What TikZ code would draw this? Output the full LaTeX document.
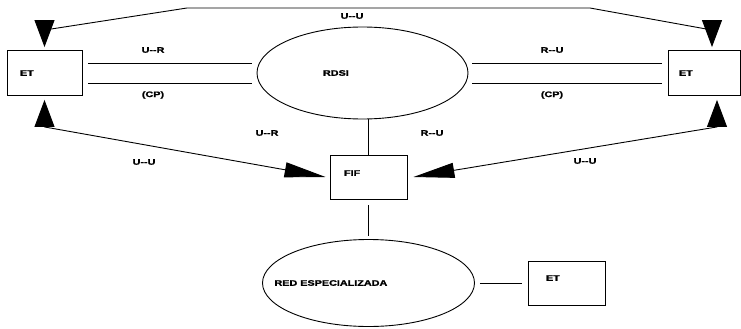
\documentclass[tikz,border=0pt]{standalone}
\usepackage{fontspec}
\setmainfont{Liberation Sans}
\newfontfamily\scanfont[FakeStretch=1.35,BoldFeatures={FakeBold=1.5}]{Liberation Sans}
\usetikzlibrary{arrows.meta,shapes.geometric}

\tikzset{
  box/.style={draw,minimum width=75pt,minimum height=45pt,inner sep=0pt},
  net/.style={draw,ellipse,inner sep=0pt},
  lbl/.style={font=\scanfont\fontsize{8}{9}\selectfont\bfseries,inner sep=1pt},
  big/.style={{Triangle[length=27pt,width=20pt]}-{Triangle[length=27pt,width=20pt]}},
  bigf/.style={{Triangle[length=27pt,width=20pt]}-{Triangle[length=41pt,width=15pt]}}
}

\begin{document}
\begin{tikzpicture}[x=1pt,y=-1pt,line width=0.9pt]
  \useasboundingbox (0,0) rectangle (741,329);

  %% boxes and networks
  \node[box] (etL) at (44.5,73) {};
  \node[box,minimum width=72pt] (etR) at (704,73) {};
  \node[box,minimum width=77pt,minimum height=44pt] (fif) at (368.5,177) {};
  \node[box,minimum width=77pt,minimum height=44pt] (etB) at (566.5,283) {};
  \node[net,minimum width=211pt,minimum height=92pt] (rdsi) at (362.5,73) {};
  \node[net,minimum width=212pt,minimum height=87pt] (red) at (368.5,283) {};

  \node[lbl,anchor=west] (etLt) at ([xshift=12pt]etL.west) {ET};
  \node[lbl,anchor=west] (etRt) at ([xshift=10pt]etR.west) {ET};
  \node[lbl,anchor=west] (fift) at ([xshift=13pt,yshift=4pt]fif.west) {FIF};
  \node[lbl,anchor=west] (etBt) at ([xshift=17pt,yshift=5pt]etB.west) {ET};
  \node[lbl,anchor=west] (rdsit) at ([xshift=65pt]rdsi.west) {RDSI};
  \node[lbl,anchor=west] (redt) at ([xshift=11pt]red.west) {RED ESPECIALIZADA};

  %% user to user
  \coordinate (bendL) at (187,8);
  \coordinate (bendR) at (590,8);
  \draw[big] ([yshift=3pt]etL.north) -- ++(0,-17) -- (bendL) -- (bendR)
    -- ([xshift=8pt,yshift=20pt]etR.north) -- ([xshift=8pt,yshift=3pt]etR.north);
  \draw[bigf] ([yshift=-4pt]etL.south) -- ++(0,27) -- ([xshift=-4pt]fif.west);
  \draw[bigf] ([xshift=13pt,yshift=-4pt]etR.south) -- ++(0,27) -- ([xshift=6pt]fif.east);

  %% user to network
  \draw ([xshift=6pt,yshift=10pt]etL.east) -- ([xshift=-5pt,yshift=10pt]rdsi.west);
  \draw ([xshift=6pt,yshift=-10pt]etL.east) -- ([xshift=-5pt,yshift=-10pt]rdsi.west);
  \draw ([xshift=4pt,yshift=10pt]rdsi.east) -- ([xshift=-6pt,yshift=10pt]etR.west);
  \draw ([xshift=4pt,yshift=-10pt]rdsi.east) -- ([xshift=-6pt,yshift=-10pt]etR.west);

  \draw (fif.north |- rdsi.south) -- (fif.north);
  \draw ([yshift=-6pt]fif.south) -- ([yshift=3pt]red.north);
  \draw ([xshift=5pt]red.east) -- ([xshift=-6pt]etB.west);

  %% labels
  \node[lbl] (uuT) at (352,16) {U--U};
  \node[lbl] (urL) at (153,50) {U--R};
  \node[lbl] (cpL) at (153,95) {(CP)};
  \node[lbl] (ruR) at (552,50) {R--U};
  \node[lbl] (cpR) at (552,95) {(CP)};
  \node[lbl] (urM) at (267,133) {U--R};
  \node[lbl] (ruM) at (432,133) {R--U};
  \node[lbl] (uuL) at (144,162) {U--U};
  \node[lbl] (uuR) at (585,161) {U--U};
\end{tikzpicture}
\end{document}
